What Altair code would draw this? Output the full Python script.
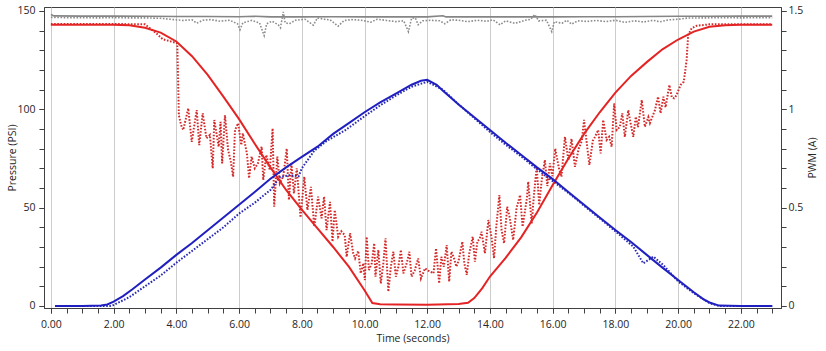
import altair as alt
import pandas as pd

# ---------------- data ----------------
# Pressure (PSI) series - solid lines
red_p_t = [0.0, 1.0, 2.0, 2.5, 3.0, 3.5, 4.0, 4.5, 5.0, 5.5, 6.0, 6.5, 7.0, 7.5, 8.0, 8.5,
           9.0, 9.5, 10.0, 10.25, 10.5, 11.0, 12.0, 13.0, 13.3, 13.5, 13.75, 14.0, 14.5, 15.0,
           15.5, 16.0, 16.5, 17.0, 17.5, 18.0, 18.5, 19.0, 19.5, 20.0, 20.5, 21.0, 21.5,
           22.0, 23.0]
red_p_v = [143.0, 143.0, 143.0, 142.8, 141.5, 139.0, 134.5, 127.0, 117.5, 106.5, 95.0, 82.5,
           70.5, 59.0, 49.0, 39.5, 30.0, 20.0, 8.0, 1.5, 0.9, 0.8, 0.6, 1.0, 1.6, 4.0, 9.0,
           15.0, 24.5, 35.0, 47.5, 61.5, 75.0, 87.5, 98.5, 108.5, 117.0, 124.0, 130.5, 135.5,
           139.5, 142.0, 142.8, 143.0, 143.0]

blue_p_t = [0.13, 1.0, 1.6, 1.8, 2.0, 2.3, 2.6, 3.0, 3.5, 4.0, 4.5, 5.0, 5.5, 6.0, 6.5, 7.0,
            7.5, 8.0, 8.5, 9.0, 9.5, 10.0, 10.5, 11.0, 11.5, 11.8, 12.0, 12.3, 12.5, 13.0,
            13.5, 14.0, 14.5, 15.0, 15.5, 16.0, 16.5, 17.0, 17.5, 18.0, 18.5, 19.0, 19.5,
            20.0, 20.5, 20.8, 21.0, 21.3, 22.0, 23.0]
blue_p_v = [0.0, 0.0, 0.2, 0.8, 2.2, 5.0, 8.5, 13.5, 19.5, 26.0, 32.0, 38.5, 45.0, 51.5, 58.0,
            64.7, 70.5, 75.8, 81.0, 87.5, 93.0, 98.5, 103.5, 108.0, 112.5, 114.5, 115.0,
            112.5, 109.5, 102.5, 96.0, 89.5, 83.0, 76.8, 70.5, 64.5, 58.0, 51.5, 45.0, 38.6,
            32.5, 26.0, 19.5, 13.2, 7.0, 3.5, 1.8, 0.2, 0.0, 0.0]

gray_p_t = [0.0, 0.1, 1.0, 2.0, 3.0, 4.0, 5.0, 6.0, 6.5, 7.0, 8.0, 9.0, 10.0, 11.0, 12.0,
            12.5, 12.6, 13.0, 14.0, 15.0, 16.0, 17.0, 18.0, 19.0, 20.0, 21.0, 22.0, 23.0]
gray_p_v = [148.2, 147.5, 147.4, 147.4, 147.3, 147.2, 147.2, 147.1, 147.3, 147.0, 147.0,
            147.1, 147.0, 147.0, 147.0, 147.6, 147.0, 147.0, 147.0, 147.0, 147.0, 147.1,
            147.1, 147.2, 147.3, 147.3, 147.4, 147.4]

# PWM (A) series - dotted lines
red_a_t = [0.0, 1.0, 2.0, 3.0, 3.3, 3.57, 3.95, 4.03, 4.08, 4.15, 4.22, 4.38, 4.49, 4.65,
           4.73, 4.84, 4.96, 5.07, 5.16, 5.21, 5.35, 5.41, 5.46, 5.55, 5.65, 5.73, 5.81, 5.87,
           5.97, 6.07, 6.12, 6.25, 6.32, 6.4, 6.5, 6.6, 6.72, 6.77, 6.87, 6.98, 7.07, 7.12,
           7.22, 7.3, 7.41, 7.52, 7.59, 7.67, 7.75, 7.84, 7.96, 8.08, 8.18, 8.29, 8.40, 8.52,
           8.63, 8.71, 8.79, 8.9, 8.98, 9.05, 9.16, 9.26, 9.37, 9.43, 9.54, 9.64, 9.7, 9.8,
           9.88, 9.96, 10.01, 10.07, 10.14, 10.23, 10.31, 10.35, 10.44, 10.52, 10.6, 10.67,
           10.76, 10.84, 10.92, 11.0, 11.08, 11.16, 11.24, 11.35, 11.43, 11.5, 11.6, 11.71,
           11.8, 11.93, 12.03, 12.2, 12.28, 12.38, 12.45, 12.53, 12.62, 12.7, 12.77, 12.86,
           12.93, 13.0, 13.12, 13.18, 13.26, 13.34, 13.45, 13.52, 13.6, 13.67, 13.73, 13.84,
           13.95, 14.05, 14.13, 14.2, 14.3, 14.37, 14.45, 14.55, 14.63, 14.74, 14.85, 14.96,
           15.04, 15.18, 15.22, 15.33, 15.4, 15.49, 15.57, 15.65, 15.75, 15.83, 15.91, 15.99,
           16.08, 16.2, 16.28, 16.39, 16.5, 16.6, 16.71, 16.83, 16.93, 17.0, 17.1, 17.17,
           17.28, 17.35, 17.45, 17.53, 17.61, 17.72, 17.8, 17.88, 17.96, 18.04, 18.14, 18.22,
           18.3, 18.41, 18.46, 18.57, 18.65, 18.72, 18.84, 18.94, 19.05, 19.1, 19.26, 19.36,
           19.44, 19.53, 19.6, 19.72, 19.8, 19.87, 19.94, 20.08, 20.18, 20.27, 20.32, 20.43,
           20.59, 21.0, 22.0, 23.0]
red_a_v = [1.434, 1.434, 1.434, 1.432, 1.395, 1.356, 1.340, 1.335, 0.970, 0.920, 0.895,
           1.005, 0.835, 0.996, 0.818, 0.980, 0.853, 0.870, 0.700, 0.946, 0.810, 0.937,
           0.725, 0.970, 0.793, 0.740, 0.657, 0.895, 0.929, 0.818, 0.878, 0.776, 0.650,
           0.760, 0.700, 0.725, 0.810, 0.640, 0.768, 0.690, 0.903, 0.505, 0.760, 0.624,
           0.660, 0.800, 0.539, 0.725, 0.573, 0.700, 0.450, 0.657, 0.488, 0.606, 0.403,
           0.556, 0.446, 0.556, 0.386, 0.530, 0.327, 0.488, 0.352, 0.380, 0.360, 0.250,
           0.370, 0.268, 0.242, 0.280, 0.166, 0.217, 0.132, 0.352, 0.183, 0.217, 0.319,
           0.149, 0.285, 0.115, 0.217, 0.344, 0.073, 0.200, 0.276, 0.149, 0.200, 0.285,
           0.166, 0.220, 0.276, 0.149, 0.180, 0.242, 0.140, 0.192, 0.180, 0.166, 0.293,
           0.115, 0.250, 0.200, 0.310, 0.124, 0.276, 0.240, 0.200, 0.230, 0.327, 0.220,
           0.158, 0.268, 0.352, 0.225, 0.330, 0.340, 0.378, 0.268, 0.437, 0.350, 0.242,
           0.400, 0.564, 0.386, 0.319, 0.505, 0.450, 0.336, 0.500, 0.564, 0.403, 0.550,
           0.632, 0.420, 0.560, 0.708, 0.513, 0.640, 0.742, 0.610, 0.725, 0.660, 0.800,
           0.700, 0.657, 0.860, 0.742, 0.850, 0.708, 0.800, 0.840, 0.946, 0.810, 0.717,
           0.840, 0.860, 0.895, 0.776, 0.946, 0.844, 0.860, 0.810, 1.030, 0.895, 0.910,
           0.980, 0.860, 0.996, 0.950, 0.860, 0.962, 0.910, 1.047, 0.911, 0.960, 0.930,
           0.996, 1.064, 0.980, 1.064, 1.010, 1.124, 1.060, 1.056, 1.070, 1.124, 1.140,
           1.250, 1.378, 1.412, 1.425, 1.432, 1.433, 1.433]

blue_a_t = [0.13, 1.0, 1.88, 2.0, 2.5, 3.0, 3.5, 4.0, 4.5, 5.0, 5.5, 6.0, 6.5, 7.0, 7.3, 7.6,
            7.9, 8.0, 8.4, 8.8, 9.4, 10.0, 10.5, 11.0, 11.5, 12.0, 12.5, 13.0, 13.5, 14.0,
            14.5, 15.0, 15.5, 16.0, 16.5, 17.0, 17.5, 18.0, 18.57, 18.89, 19.21, 19.53,
            20.0, 20.5, 21.0, 21.3, 22.0, 23.0]
blue_a_v = [0.0, 0.0, 0.0, 0.005, 0.045, 0.10, 0.155, 0.22, 0.28, 0.34, 0.40, 0.47, 0.525,
            0.59, 0.655, 0.665, 0.66, 0.70, 0.79, 0.84, 0.895, 0.965, 1.02, 1.07, 1.115,
            1.14, 1.10, 1.025, 0.955, 0.885, 0.82, 0.76, 0.695, 0.635, 0.575, 0.51, 0.445,
            0.38, 0.302, 0.217, 0.251, 0.208, 0.125, 0.065, 0.015, 0.0, 0.0, 0.0]

gray_a_t = [0.0, 0.5, 1.0, 1.5, 2.0, 2.5, 3.0, 3.5, 3.8, 4.2, 4.5, 4.65, 4.85, 5.1, 5.4,
            5.7, 5.95, 6.03, 6.12, 6.4, 6.65, 6.8, 6.88, 7.05, 7.25, 7.32, 7.41, 7.47, 7.6,
            7.8, 8.1, 8.37, 8.5, 8.7, 8.9, 9.16, 9.35, 9.6, 9.9, 10.2, 10.4, 10.7, 11.0,
            11.25, 11.4, 11.5, 11.62, 11.71, 11.85, 12.1, 12.4, 12.56, 12.75, 13.0, 13.3,
            13.6, 13.9, 14.1, 14.32, 14.5, 14.8, 15.1, 15.3, 15.43, 15.55, 15.8, 15.97,
            16.05, 16.3, 16.45, 16.6, 16.8, 17.1, 17.4, 17.7, 18.0, 18.3, 18.6, 18.9, 19.2,
            19.42, 19.7, 20.0, 20.3, 20.8, 21.5, 22.0, 22.5, 23.0]
gray_a_v = [1.468, 1.466, 1.466, 1.465, 1.466, 1.465, 1.465, 1.463, 1.458, 1.452, 1.455,
            1.438, 1.453, 1.456, 1.448, 1.453, 1.435, 1.405, 1.440, 1.452, 1.440, 1.375,
            1.435, 1.448, 1.430, 1.415, 1.495, 1.440, 1.435, 1.453, 1.458, 1.428, 1.465,
            1.458, 1.455, 1.423, 1.452, 1.456, 1.453, 1.443, 1.458, 1.452, 1.446, 1.450,
            1.395, 1.463, 1.465, 1.430, 1.450, 1.453, 1.450, 1.435, 1.455, 1.453, 1.446,
            1.453, 1.448, 1.455, 1.430, 1.450, 1.437, 1.452, 1.458, 1.482, 1.450, 1.453,
            1.395, 1.445, 1.438, 1.453, 1.433, 1.450, 1.447, 1.452, 1.446, 1.453, 1.442,
            1.450, 1.444, 1.453, 1.445, 1.455, 1.458, 1.464, 1.465, 1.466, 1.465, 1.466,
            1.466]

x_major_ticks = [0, 2, 4, 6, 8, 10, 12, 14, 16, 18, 20, 22]
x_minor_ticks = [i / 2 for i in range(47)]
p_major_ticks = [0, 50, 100, 150]
p_minor_ticks = list(range(0, 151, 10))
a_major_ticks = [0, 0.5, 1, 1.5]
a_minor_ticks = [round(i / 10, 1) for i in range(16)]

# ---------------- styling / layout ----------------
FONT = "Open Sans"
AXC = "#404040"
x_scale = alt.Scale(domain=[-0.22, 23.28], nice=False, zero=False)
p_scale = alt.Scale(domain=[-1.02, 152.03], nice=False, zero=False)
a_scale = alt.Scale(domain=[-0.0102, 1.5203], nice=False, zero=False)

common = dict(labelFont=FONT, labelFontSize=10.5, labelColor="#262626", titleFont=FONT,
              titleFontSize=10.5, titleFontWeight="normal", titleColor="#262626",
              tickColor=AXC, domainColor=AXC, tickSize=5)

x_major = alt.Axis(values=x_major_ticks, format=".2f", title="Time (seconds)", grid=True,
                   orient="bottom", gridColor="#cccccc", gridWidth=1, labelPadding=6,
                   titleX=368.5, titleY=33.5, titleBaseline="alphabetic",
                   titleAlign="center", **common)
x_minor = alt.Axis(values=x_minor_ticks, labels=False, grid=False, domain=False,
                   title=None, orient="bottom", **common)
p_major = alt.Axis(values=p_major_ticks, format="d", title="Pressure (PSI)", orient="left",
                   grid=False, labelPadding=4, titleAngle=270, titleX=-32, titleY=150.5,
                   titleAlign="center", titleBaseline="middle", **common)
p_minor = alt.Axis(values=p_minor_ticks, labels=False, grid=False, domain=False,
                   title=None, orient="left", **common)
a_major = alt.Axis(values=a_major_ticks, format="~g", title="PWM (A)", orient="right",
                   grid=False, labelPadding=2, titleAngle=270, titleX=31, titleY=150.5,
                   titleAlign="center", titleBaseline="middle", **common)
a_minor = alt.Axis(values=a_minor_ticks, labels=False, grid=False, domain=False,
                   title=None, orient="right", **common)


def layer(t, v, color, width, yscale, yaxis=None, xaxis=None, dash=None):
    df = pd.DataFrame({"t": t, "v": v})
    mk = dict(color=color, strokeWidth=width)
    if dash is not None:
        mk["strokeDash"] = dash
    x = alt.X("t:Q", scale=x_scale, axis=xaxis) if xaxis is not None else \
        alt.X("t:Q", scale=x_scale, axis=None)
    y = alt.Y("v:Q", scale=yscale, axis=yaxis) if yaxis is not None else \
        alt.Y("v:Q", scale=yscale, axis=None)
    return alt.Chart(df).mark_line(**mk).encode(x=x, y=y)


DOT = [1.6, 1.6]
chart = alt.layer(
    layer(gray_a_t, gray_a_v, "#8c8c8c", 1.6, a_scale, yaxis=a_minor, dash=DOT),
    layer(gray_p_t, gray_p_v, "#858585", 1.6, p_scale, yaxis=p_minor, xaxis=x_minor),
    layer(red_a_t, red_a_v, "#d42a2a", 2.0, a_scale, yaxis=a_major, dash=DOT),
    layer(blue_a_t, blue_a_v, "#2a2ab4", 2.0, a_scale, dash=DOT),
    layer(red_p_t, red_p_v, "#e42424", 2.0, p_scale, yaxis=p_major, xaxis=x_major),
    layer(blue_p_t, blue_p_v, "#2020c0", 2.0, p_scale),
).resolve_scale(
    x="independent", y="independent"
).properties(
    width=737, height=301,
    autosize=alt.AutoSizeParams(type="none"),
    padding={"left": 44, "top": 7, "right": 45, "bottom": 43},
    background="white",
).configure_view(stroke=AXC, strokeWidth=1)

chart.save("out.html", embed_options={"renderer": "svg", "actions": False})
